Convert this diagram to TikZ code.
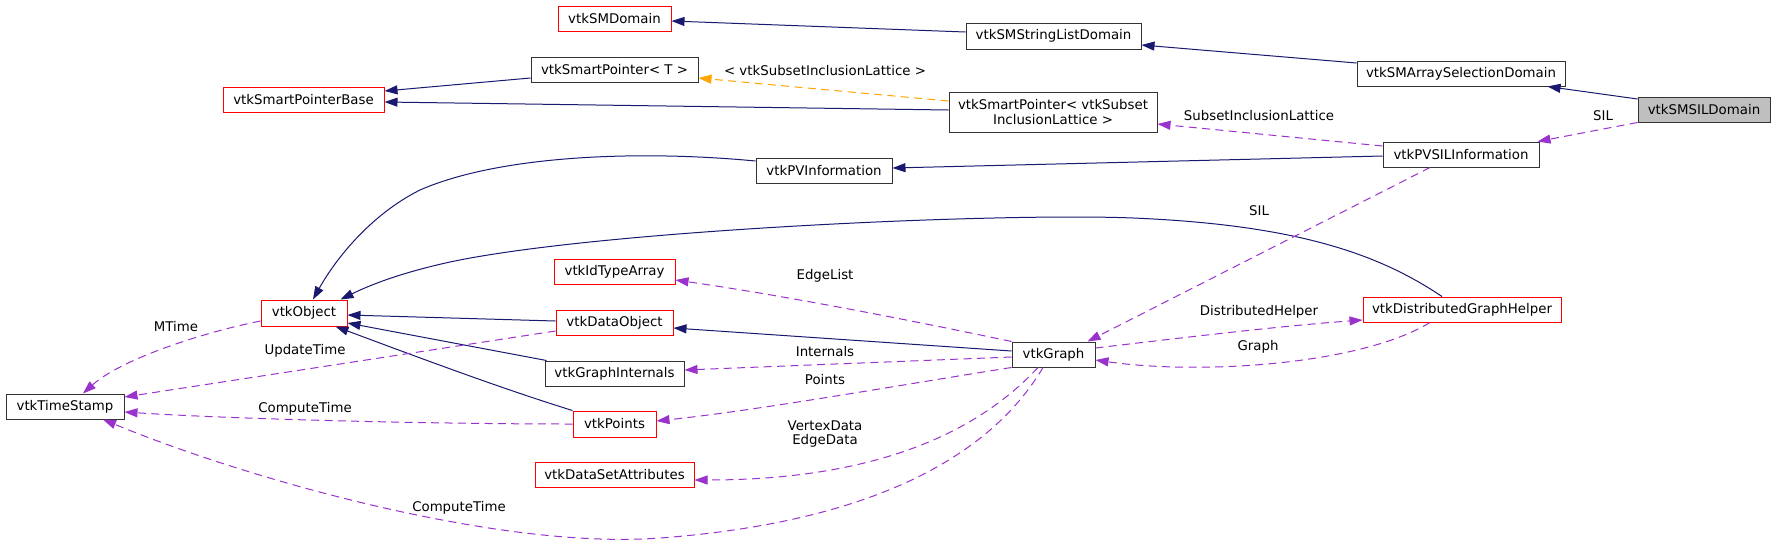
\documentclass[tikz,border=0pt]{standalone}
\usepackage{fontspec}
\setmainfont{DejaVu Sans}
\usetikzlibrary{arrows.meta,calc}
\definecolor{inhcol}{HTML}{191970}
\definecolor{usecol}{HTML}{9A32CD}
\definecolor{tplcol}{HTML}{FFA500}
\definecolor{boxgray}{HTML}{BFBFBF}
\begin{document}
\begin{tikzpicture}[x=0.75pt,y=-0.75pt,
  font=\fontsize{10pt}{11pt}\selectfont,
  cls/.style={draw=black!80, line width=0.75pt, inner sep=0pt, align=center, fill=white},
  rcls/.style={cls, draw=red},
  sz/.style 2 args={minimum width=#1*0.75pt, minimum height=#2*0.75pt},
  lbl/.style={inner sep=0pt, align=center},
  tipstyle/.style={-{Triangle[length=9.75pt,width=6.75pt]}},
  inh/.style={draw=inhcol, line width=0.75pt, tipstyle},
  usage/.style={draw=usecol, line width=0.75pt, dash pattern=on 6pt off 4pt, tipstyle},
  tpl/.style={draw=tplcol, line width=0.75pt, dash pattern=on 6pt off 4pt, tipstyle}
]
\useasboundingbox (0,0) rectangle (1776,547);
\fill[white] (0,0) rectangle (1776,547);

% nodes
\node[rcls,sz={113}{25}] (smdom) at (614.5,18.5) {vtkSMDomain};
\node[cls,sz={175}{26}] (smsl) at (1053.5,36) {vtkSMStringListDomain};
\node[cls,sz={167}{25}] (spt) at (614.5,69.5) {vtkSmartPointer< T >};
\node[rcls,sz={161}{25}] (spbase) at (303.5,99.5) {vtkSmartPointerBase};
\node[cls,sz={208}{40}] (spsub) at (1053,112) {vtkSmartPointer< vtkSubset\\InclusionLattice >};
\node[cls,sz={208}{25}] (smas) at (1461,73.5) {vtkSMArraySelectionDomain};
\node[cls,sz={132}{25},fill=boxgray] (smsil) at (1704,109.5) {vtkSMSILDomain};
\node[cls,sz={136}{25}] (pvinfo) at (824,170.5) {vtkPVInformation};
\node[cls,sz={156}{25}] (pvsil) at (1461,154.5) {vtkPVSILInformation};
\node[rcls,sz={86}{26}] (obj) at (304,313) {vtkObject};
\node[cls,sz={118}{25}] (ts) at (65,406.5) {vtkTimeStamp};
\node[rcls,sz={121}{25}] (ida) at (614.5,271.5) {vtkIdTypeArray};
\node[rcls,sz={117}{25}] (dobj) at (614.5,322.5) {vtkDataObject};
\node[cls,sz={139}{25}] (gi) at (614.5,373.5) {vtkGraphInternals};
\node[rcls,sz={83}{26}] (pts) at (614.5,424) {vtkPoints};
\node[rcls,sz={159}{25}] (dsa) at (614.5,474.5) {vtkDataSetAttributes};
\node[cls,sz={83}{25}] (graph) at (1053.5,354.5) {vtkGraph};
\node[rcls,sz={198}{25}] (dgh) at (1462,309.5) {vtkDistributedGraphHelper};

% inheritance edges
\draw[inh] ($(smsl.west)+(0,-4)$) -- ($(smdom.east)+(0,2.5)$);
\draw[inh] ($(smas.west)+(0,-10.5)$) -- ($(smsl.east)+(0,9)$);
\draw[inh] ($(smsil.west)+(0,-10.5)$) -- ($(smas.south east)+(-18,0)$);
\draw[inh] ($(spt.west)+(0,8.5)$) -- ($(spbase.east)+(0,-8.5)$);
\draw[inh] ($(spsub.west)+(0,-2)$) -- ($(spbase.east)+(0,2.5)$);
\draw[inh] ($(pvsil.west)+(0,1.5)$) -- ($(pvinfo.east)+(0,-2.5)$);
\draw[inh] ($(pvinfo.west)+(0,-9.5)$) .. controls (640,150) and (500,155) .. (420,190)
   .. controls (370,215) and (335,260) .. ($(obj.north)+(9,0)$);
\draw[inh] ($(dgh.north)+(-20,0)$) .. controls (1380,255) and (1300,225) .. (1133,218)
   .. controls (1000,212.5) and (600,230) .. (450,262)
   .. controls (400,273) and (370,285) .. ($(obj.north east)+(-7,0)$);
\draw[inh] ($(dobj.west)+(0,-1.5)$) -- ($(obj.east)+(0,2)$);
\draw[inh] ($(gi.north west)+(2,0)$) -- ($(obj.east)+(0,10)$);
\draw[inh] (pts.north west) .. controls (500,388) and (420,358) .. ($(obj.south east)+(-12,0)$);
\draw[inh] ($(graph.west)+(0,-3.5)$) -- ($(dobj.east)+(0,5.5)$);

% template edge
\draw[tpl] ($(spsub.west)+(0,-11)$) -- ($(spt.east)+(0,8.5)$);

% usage edges
\draw[usage] (smsil.south west) -- ($(pvsil.north east)+(-2,0)$);
\draw[usage] ($(pvsil.west)+(0,-8.5)$) -- ($(spsub.east)+(0,12)$);
\draw[usage] ($(obj.west)+(0,8)$) .. controls (200,333) and (120,360) .. ($(ts.north)+(18,0)$);
\draw[usage] ($(dobj.west)+(0,8.5)$) -- ($(ts.east)+(0,-9.5)$);
\draw[usage] (pts.west) .. controls (450,424) and (250,420) .. ($(ts.east)+(0,5.5)$);
\draw[usage] ($(graph.south)+(-10.5,0)$) .. controls (1000,440) and (900,520) .. (660,538)
   .. controls (500,550) and (250,480) .. ($(ts.south)+(38,0)$);
\draw[usage] (graph.north west) .. controls (900,318) and (780,295) .. ($(ida.east)+(0,8.5)$);
\draw[usage] ($(graph.west)+(0,2.5)$) -- ($(gi.east)+(0,-3.5)$);
\draw[usage] (graph.south west) .. controls (900,385) and (760,410) .. ($(pts.east)+(0,-3)$);
\draw[usage] ($(graph.south)+(-15.5,0)$) .. controls (980,430) and (880,480) .. ($(dsa.east)+(0,5.5)$);
\draw[usage] ($(graph.east)+(0,-6.5)$) .. controls (1180,338) and (1280,326) .. ($(dgh.west)+(0,10.5)$);
\draw[usage] ($(dgh.south)+(-32,0)$) .. controls (1360,365) and (1200,375) .. ($(graph.east)+(0,5.5)$);
\draw[usage] ($(pvsil.south)+(-31,0)$) -- ($(graph.north east)+(-8,0)$);

% labels
\node[lbl] (l1) at (825,71) {< vtkSubsetInclusionLattice >};
\node[lbl] (l2) at (1259,116) {SubsetInclusionLattice};
\node[lbl] (l3) at (1603,116) {SIL};
\node[lbl] (l4) at (1259,211) {SIL};
\node[lbl] (l5) at (176,327) {MTime};
\node[lbl] (l6) at (305,351) {UpdateTime};
\node[lbl] (l7) at (305,409) {ComputeTime};
\node[lbl] (l8) at (459,508) {ComputeTime};
\node[lbl] (l9) at (825,276) {EdgeList};
\node[lbl] (l10) at (825,352) {Internals};
\node[lbl] (l11) at (825,380) {Points};
\node[lbl] (l12) at (825,434) {VertexData\\EdgeData};
\node[lbl] (l13) at (1259,312) {DistributedHelper};
\node[lbl] (l14) at (1258,347) {Graph};
\end{tikzpicture}
\end{document}
